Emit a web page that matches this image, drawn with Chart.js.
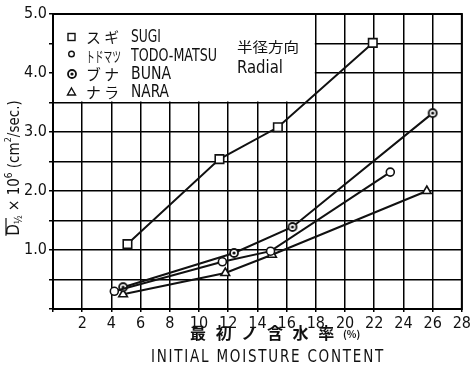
<!DOCTYPE html>
<html>
<head>
<meta charset="utf-8">
<script src="https://cdn.jsdelivr.net/npm/chart.js@4.4.1/dist/chart.umd.min.js"></script>
<style>
  html, body { margin: 0; padding: 0; background: #fff; }
  #wrap { width: 473px; height: 367px; position: relative; }
</style>
</head>
<body>
<div id="wrap"><canvas id="moistChart"></canvas></div>
<script>
// values
const xTickLabels = [2, 4, 6, 8, 10, 12, 14, 16, 18, 20, 22, 24, 26, 28];
const yTickLabels = ['1.0', '2.0', '3.0', '4.0', '5.0'];

const sugiX = [5.1, 11.4, 15.4, 21.9];
const sugiY = [1.10, 2.54, 3.08, 4.51];
const todoX = [4.2, 11.6, 14.9, 23.1];
const todoY = [0.30, 0.80, 0.98, 2.32];
const bunaX = [4.8, 12.4, 16.4, 26.0];
const bunaY = [0.37, 0.95, 1.39, 3.32];
const naraX = [4.8, 11.8, 15.0, 25.6];
const naraY = [0.25, 0.61, 0.92, 2.00];

const seriesJa = ['ス ギ', 'トドマツ', 'ブ ナ', 'ナ ラ'];
const seriesEn = ['SUGI', 'TODO-MATSU', 'BUNA', 'NARA'];

const INK = '#111';
const NARROW = '"Liberation Sans Narrow", "DejaVu Sans Condensed", "Liberation Sans", sans-serif';
const CJK = '"Noto Sans CJK JP", "Noto Sans CJK SC", sans-serif';

function pts(xs, ys) {
  return xs.map((x, i) => ({ x: x, y: ys[i] }));
}

// squeeze text horizontally to a given width (keeps the height)
function fitText(ctx, text, x, y, w) {
  const m = ctx.measureText(text).width;
  ctx.save();
  ctx.translate(x, y);
  ctx.scale(w / m, 1);
  ctx.fillText(text, 0, 0);
  ctx.restore();
}

// circle with a dot inside (BUNA marker)
function dotCircle(r) {
  const c = document.createElement('canvas');
  c.width = c.height = r * 2 + 4;
  const g = c.getContext('2d');
  const m = c.width / 2;
  g.beginPath();
  g.arc(m, m, r, 0, Math.PI * 2);
  g.fillStyle = '#fff';
  g.fill();
  g.lineWidth = 1.8;
  g.strokeStyle = INK;
  g.stroke();
  g.beginPath();
  g.arc(m, m, 1.6, 0, Math.PI * 2);
  g.fillStyle = INK;
  g.fill();
  return c;
}
const bunaMark = dotCircle(4);

function line(label, data, style, radius) {
  return {
    label: label,
    data: data,
    showLine: true,
    borderColor: INK,
    borderWidth: 2,
    pointStyle: style,
    pointRadius: radius,
    pointHoverRadius: radius,
    pointBackgroundColor: '#fff',
    pointBorderColor: INK,
    pointBorderWidth: 1.6
  };
}

const framePlugin = {
  id: 'frame',
  beforeDatasetsDraw(chart) {
    const { ctx, chartArea: a, scales } = chart;
    const x18 = scales.x.getPixelForValue(18);
    const y35 = scales.y.getPixelForValue(3.5);
    ctx.save();
    // legend area has no grid in the original
    ctx.fillStyle = '#fff';
    ctx.fillRect(a.left + 1, a.top + 1, x18 - a.left - 2, y35 - a.top - 2);
    ctx.strokeStyle = '#000';
    ctx.lineWidth = 2;
    ctx.strokeRect(a.left, a.top, a.right - a.left, a.bottom - a.top);
    ctx.restore();
  },
  afterDraw(chart) {
    const ctx = chart.ctx;
    ctx.save();
    ctx.fillStyle = INK;
    ctx.strokeStyle = INK;
    ctx.textBaseline = 'middle';

    // legend
    const rows = [37, 56, 74, 92];
    ctx.lineWidth = 1.4;
    ctx.strokeRect(68, rows[0] - 3.5, 7, 7);
    ctx.beginPath(); ctx.arc(71.5, rows[1] - 2, 2.8, 0, Math.PI * 2); ctx.stroke();
    ctx.drawImage(bunaMark, 71.5 - bunaMark.width / 2 + 0.5, rows[2] - bunaMark.height / 2);
    ctx.beginPath();
    ctx.moveTo(71.5, rows[3] - 4); ctx.lineTo(75.5, rows[3] + 3); ctx.lineTo(67.5, rows[3] + 3); ctx.closePath();
    ctx.stroke();
    const enW = [30, 86, 40, 38];
    const jaW = [33, 35, 33, 33];
    for (let i = 0; i < 4; i++) {
      ctx.font = '15px ' + CJK;
      fitText(ctx, seriesJa[i], 86, rows[i], jaW[i]);
      ctx.font = '17px ' + NARROW;
      fitText(ctx, seriesEn[i], 131, rows[i] + 1, enW[i]);
    }

    // direction note
    ctx.font = '14px ' + CJK;
    fitText(ctx, '半径方向', 237, 47, 62);
    ctx.font = '17px ' + NARROW;
    fitText(ctx, 'Radial', 237, 69, 46);

    // x axis titles
    ctx.font = 'bold 16px ' + CJK;
    ctx.letterSpacing = '3px';
    ctx.fillText('最 初 ノ 含 水 率', 190, 333, 148);
    ctx.letterSpacing = '0px';
    ctx.font = 'bold 10px ' + CJK;
    ctx.fillText('(%)', 343, 334);
    ctx.textAlign = 'center';
    ctx.font = '17px ' + NARROW;
    ctx.letterSpacing = '2px';
    ctx.fillText('INITIAL MOISTURE CONTENT', 268, 358, 234);
    ctx.letterSpacing = '0px';

    // y axis title, rotated, pieced together for sub/superscripts
    ctx.translate(15, 168);
    ctx.rotate(-Math.PI / 2);
    ctx.textAlign = 'left';
    const parts = [
      ['D', 17, 0], ['½', 10, 4], [' × 10', 15, 0], ['6', 10, -6],
      [' (cm', 15, 0], ['2', 9, -6], ['/sec.)', 15, 0]
    ];
    let total = 0;
    parts.forEach(p => { ctx.font = p[1] + 'px ' + NARROW; total += ctx.measureText(p[0]).width; });
    let cx = -total / 2;
    parts.forEach((p, i) => {
      ctx.font = p[1] + 'px ' + NARROW;
      ctx.fillText(p[0], cx, p[2]);
      if (i === 0) {
        ctx.lineWidth = 1.2;
        ctx.beginPath();
        ctx.moveTo(cx, -9); ctx.lineTo(cx + ctx.measureText('D').width + 6, -9);
        ctx.stroke();
      }
      cx += ctx.measureText(p[0]).width;
    });
    ctx.restore();
  }
};

new Chart(document.getElementById('moistChart'), {
  type: 'scatter',
  data: {
    datasets: [
      line(seriesEn[0], pts(sugiX, sugiY), 'rect', 6),
      line(seriesEn[1], pts(todoX, todoY), 'circle', 4),
      line(seriesEn[2], pts(bunaX, bunaY), bunaMark, 4),
      line(seriesEn[3], pts(naraX, naraY), 'triangle', 5)
    ]
  },
  options: {
    responsive: true,
    maintainAspectRatio: false,
    animation: false,
    layout: { padding: { top: 14, right: 8, left: 0, bottom: 0 } },
    plugins: {
      legend: { display: false },
      tooltip: { enabled: false },
      title: { display: false }
    },
    scales: {
      x: {
        type: 'linear',
        min: 0,
        max: 28,
        afterFit(s) { s.height = 58; },
        afterBuildTicks(s) { s.ticks = [0].concat(xTickLabels).map(v => ({ value: v })); },
        ticks: {
          color: INK,
          padding: 2,
          font: { family: NARROW, size: 16 },
          callback: v => (v === 0 ? '' : String(v))
        },
        grid: { color: '#000', lineWidth: 1.5, drawTicks: true, tickLength: 3 },
        border: { color: '#000', width: 2 }
      },
      y: {
        min: 0,
        max: 5,
        afterFit(s) { s.width = 53; },
        ticks: {
          stepSize: 0.5,
          color: INK,
          padding: 2,
          font: { family: NARROW, size: 16 },
          callback: v => (Number.isInteger(v) && v > 0 ? yTickLabels[v - 1] : '')
        },
        grid: { color: '#000', lineWidth: 1.5, drawTicks: true, tickLength: 4 },
        border: { color: '#000', width: 2 }
      }
    }
  },
  plugins: [framePlugin]
});
</script>
</body>
</html>
